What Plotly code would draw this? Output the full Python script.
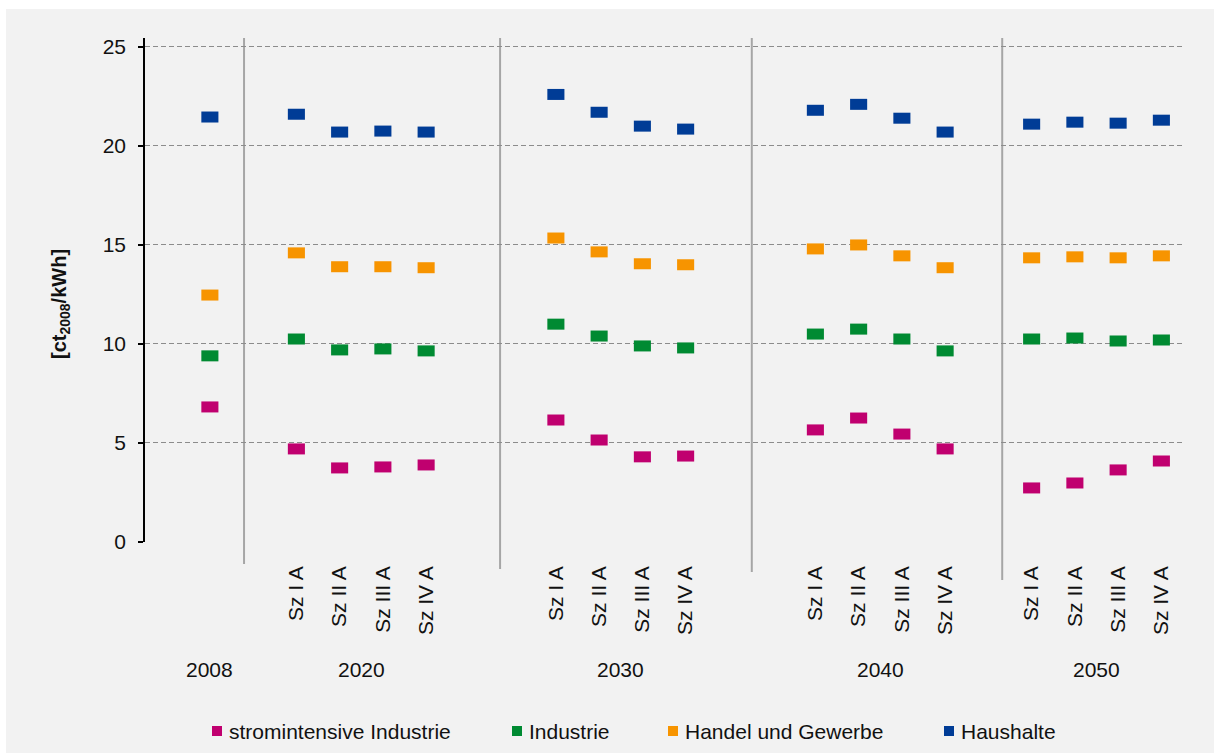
import plotly.graph_objects as go

# ---- data -------------------------------------------------------------
periods = ["2008", "2020", "2030", "2040", "2050"]
scenarios = ["Sz I A", "Sz II A", "Sz III A", "Sz IV A"]

series_names = ["stromintensive Industrie", "Industrie", "Handel und Gewerbe", "Haushalte"]

# first value = 2008, then 4 scenarios each for 2020, 2030, 2040, 2050  [ct2008/kWh]
stromintensive = [6.82,
                  4.70, 3.74, 3.79, 3.89,
                  6.16, 5.15, 4.30, 4.34,
                  5.66, 6.26, 5.45, 4.70,
                  2.73, 2.98, 3.64, 4.09]
industrie = [9.40,
             10.25, 9.70, 9.75, 9.65,
             11.00, 10.40, 9.90, 9.80,
             10.50, 10.75, 10.25, 9.65,
             10.25, 10.30, 10.15, 10.20]
handel = [12.47,
          14.60, 13.90, 13.90, 13.85,
          15.35, 14.65, 14.05, 14.00,
          14.80, 15.00, 14.45, 13.85,
          14.35, 14.40, 14.35, 14.45]
haushalte = [21.46,
             21.60, 20.70, 20.75, 20.70,
             22.60, 21.70, 21.00, 20.85,
             21.80, 22.10, 21.40, 20.70,
             21.10, 21.20, 21.15, 21.30]

# ---- layout helpers ----------------------------------------------------
colors = ["#C0006F", "#008A32", "#F79400", "#003C96"]
font_family = "Liberation Sans, Arial, sans-serif"
text_color = "#111111"
fs = 21

W, H = 1214, 753
L, R, T, B = 145, 31, 38, 211
PW, PH = W - L - R, H - T - B
N_SLOTS = 24

def px_x(p):
    return (p - L) / PW

def px_y(p):
    return (H - B - p) / PH

# slot layout: 2008 sits alone, each scenario year holds four adjacent slots
slot_2008 = 1
group_first_slot = [3, 9, 15, 20]
x_pos = [slot_2008 + 0.5]
for g in group_first_slot:
    x_pos += [g + k + 0.5 for k in range(len(scenarios))]

tick_vals = x_pos[1:]
tick_text = scenarios * len(group_first_slot)
period_centers = [x_pos[0]] + [g + len(scenarios) / 2 for g in group_first_slot]

separator_slots = [2.29, 8.21, 14.03, 19.82]
separator_bottom_px = [564, 569, 572, 580]

fig = go.Figure()

for name, vals, col in zip(series_names, [stromintensive, industrie, handel, haushalte], colors):
    fig.add_trace(go.Scatter(
        x=x_pos, y=vals, mode="markers", name=name, showlegend=False,
        marker=dict(symbol="line-ew", size=12.2, line=dict(color=col, width=11)),
        hoverinfo="x+y+name",
    ))

shapes = []
# panel background
shapes.append(dict(type="rect", xref="paper", yref="paper",
                   x0=px_x(6), x1=px_x(W + 2), y0=px_y(9), y1=px_y(H + 2),
                   fillcolor="#F2F2F2", line=dict(width=0), layer="below"))
# period separators
for s, bpx in zip(separator_slots, separator_bottom_px):
    shapes.append(dict(type="line", xref="paper", yref="paper",
                       x0=s / N_SLOTS, x1=s / N_SLOTS, y0=1, y1=px_y(bpx),
                       line=dict(color="#A6A6A6", width=2), layer="below"))

annotations = []
for p, xc in zip(periods, period_centers):
    annotations.append(dict(x=xc, y=px_y(669), xref="x", yref="paper", text=p,
                            showarrow=False, xanchor="center", yanchor="middle",
                            font=dict(size=fs, color=text_color, family=font_family)))

# y-axis title
annotations.append(dict(x=px_x(60), y=px_y(304), xref="paper", yref="paper",
                        text="<b>[ct<sub>2008</sub>/kWh]</b>", textangle=-90,
                        showarrow=False, xanchor="center", yanchor="middle",
                        font=dict(size=20, color=text_color, family=font_family)))

# legend row
legend_square_px = [217, 517, 673, 949]
legend_text_px = [227, 527, 683, 959]
legend_y_px = 731
for name, col, sq, tx in zip(series_names, colors, legend_square_px, legend_text_px):
    shapes.append(dict(type="rect", xref="paper", yref="paper",
                       x0=px_x(sq - 5), x1=px_x(sq + 5),
                       y0=px_y(legend_y_px + 5), y1=px_y(legend_y_px - 5),
                       fillcolor=col, line=dict(width=0)))
    annotations.append(dict(x=px_x(tx), y=px_y(legend_y_px), xref="paper", yref="paper",
                            text=name, showarrow=False, xanchor="left", yanchor="middle",
                            font=dict(size=fs, color=text_color, family=font_family)))

fig.update_layout(
    width=W, height=H,
    margin=dict(l=L, r=R, t=T, b=B, pad=0),
    paper_bgcolor="white",
    plot_bgcolor="rgba(0,0,0,0)",
    font=dict(family=font_family, size=fs, color=text_color),
    shapes=shapes,
    annotations=annotations,
    showlegend=False,
    xaxis=dict(
        range=[0, N_SLOTS], showgrid=False, zeroline=False, showline=False,
        tickmode="array", tickvals=tick_vals, ticktext=tick_text,
        tickangle=-90, ticks="", ticklabelstandoff=19,
        tickfont=dict(size=fs, color=text_color),
        fixedrange=True,
    ),
    yaxis=dict(
        range=[0, 25.45], tickmode="array", tickvals=[0, 5, 10, 15, 20, 25],
        showgrid=True, gridcolor="#8C8C8C", gridwidth=1, griddash="5px,3px",
        zeroline=False, showline=True, linecolor="black", linewidth=1.5,
        ticks="outside", ticklen=5, tickcolor="black", tickwidth=1.5,
        ticklabelstandoff=8,
        tickfont=dict(size=fs, color=text_color),
        fixedrange=True,
    ),
)

fig.write_html("out.html")
